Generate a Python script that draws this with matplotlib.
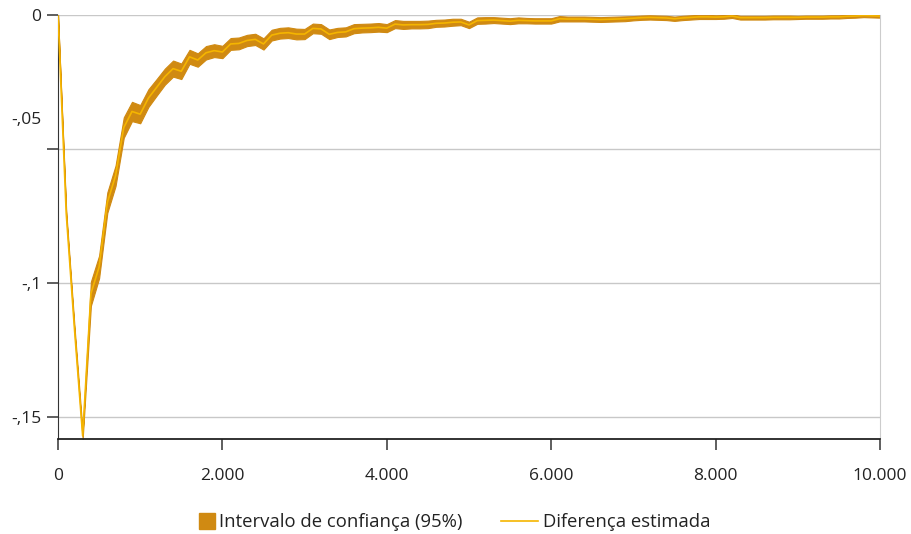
import numpy as np
import matplotlib
matplotlib.use("Agg")
import matplotlib.pyplot as plt
import matplotlib.patches as mpatches
from matplotlib.lines import Line2D
from matplotlib.legend_handler import HandlerPatch
from matplotlib.transforms import ScaledTranslation

plt.rcParams["font.family"] = ["Open Sans", "DejaVu Sans"]

# sample size (x) and estimated difference
x = list(range(0, 10001, 100))
estimate = [
    0.0, -0.074, -0.117, -0.157, -0.104, -0.094, -0.070, -0.060, -0.042, -0.036,
    -0.037, -0.031, -0.027, -0.023, -0.020, -0.021, -0.0156, -0.0168, -0.0141, -0.0133,
    -0.0138, -0.0108, -0.0106, -0.0095, -0.0091, -0.0108, -0.0075, -0.0068, -0.0066, -0.0071,
    -0.0071, -0.0050, -0.0052, -0.0072, -0.0065, -0.0063, -0.0051, -0.0049, -0.0048, -0.0046,
    -0.0049, -0.0034, -0.0037, -0.0036, -0.0036, -0.0035, -0.0031, -0.0030, -0.0027, -0.0026,
    -0.0037, -0.0021, -0.0020, -0.0019, -0.0021, -0.0023, -0.0020, -0.0021, -0.0022, -0.0022,
    -0.0022, -0.0014, -0.0015, -0.0015, -0.0015, -0.0016, -0.0017, -0.0016, -0.0015, -0.0014,
    -0.0012, -0.0010, -0.0009, -0.0010, -0.0011, -0.0014, -0.0011, -0.0009, -0.0007, -0.0007,
    -0.0008, -0.0007, -0.0004, -0.0010, -0.0010, -0.0010, -0.0010, -0.0009, -0.0009, -0.0009,
    -0.0009, -0.0008, -0.0008, -0.0008, -0.0007, -0.0007, -0.0005, -0.0004, -0.0002, -0.0003,
    -0.0004,
]
# half width of the 95% interval
half_ci = [
    0.0, 0.0008, 0.001, 0.0012, 0.0045, 0.0042, 0.0038, 0.0038, 0.0038, 0.0036,
    0.0034, 0.0033, 0.0031, 0.003, 0.003, 0.0029, 0.0026, 0.0025, 0.0025, 0.0024,
    0.0023, 0.0022, 0.0022, 0.0021, 0.0021, 0.0021, 0.002, 0.002, 0.002, 0.002,
    0.0019, 0.0018, 0.0018, 0.0018, 0.0017, 0.0017, 0.0017, 0.0016, 0.0016, 0.0016,
    0.0015, 0.0015, 0.0015, 0.0014, 0.0014, 0.0014, 0.0013, 0.0013, 0.0013, 0.0012,
    0.0012, 0.0012, 0.0012, 0.0011, 0.0011, 0.0011, 0.0011, 0.001, 0.001, 0.001,
    0.001, 0.001, 0.0009, 0.0009, 0.0009, 0.0009, 0.0009, 0.0009, 0.0009, 0.0009,
    0.0008, 0.0008, 0.0008, 0.0008, 0.0008, 0.0008, 0.0008, 0.0008, 0.0008, 0.0008,
    0.0007, 0.0007, 0.0007, 0.0007, 0.0007, 0.0007, 0.0007, 0.0007, 0.0007, 0.0007,
    0.0006, 0.0006, 0.0006, 0.0006, 0.0006, 0.0006, 0.0006, 0.0006, 0.0006, 0.0006,
    0.0006,
]
yticks = [0, -0.05, -0.1, -0.15]
ytick_labels = ["0", "-,05", "-,1", "-,15"]
xticks = [0, 2000, 4000, 6000, 8000, 10000]
xtick_labels = ["0", "2.000", "4.000", "6.000", "8.000", "10.000"]

BAND = "#D08A12"
LINE = "#F5B500"
TXT = "#222222"

est = np.array(estimate)
hw = np.array(half_ci)

fig = plt.figure(figsize=(9.11, 5.34), dpi=100)
ax = fig.add_axes([58/911, 1 - 439/534, 822/911, 424/534])

ax.fill_between(x, est - hw, est + hw, color=BAND, lw=0.8, ec=BAND, zorder=2)
ax.plot(x, est, color=LINE, lw=1.2, zorder=3)

ax.set_xlim(0, 10000)
ax.set_ylim(-0.1582, 0)
ax.set_yticks(yticks)
ax.set_yticklabels(ytick_labels)
ax.set_xticks(xticks)
ax.set_xticklabels(xtick_labels)
ax.grid(axis="y", color="#c8c8c8", lw=1)
ax.set_axisbelow(True)

ax.spines["top"].set_visible(False)
ax.spines["right"].set_color("#cccccc")
ax.spines["left"].set_color("#333333")
ax.spines["bottom"].set_color("#222222")
ax.spines["bottom"].set_linewidth(1.3)
ax.tick_params(axis="y", length=8, width=1.1, color="#333333", pad=4,
               labelsize=12.5, labelcolor=TXT)
ax.tick_params(axis="x", length=8, width=1.1, color="#333333", pad=13,
               labelsize=12.5, labelcolor=TXT)

# the -,05 label sits above its tick in the original
lab = ax.get_yticklabels()[1]
lab.set_transform(lab.get_transform() + ScaledTranslation(0, 0.31, fig.dpi_scale_trans))


def square_patch(legend, orig_handle, xdescent, ydescent, width, height, fontsize):
    s = height * 1.2
    return mpatches.Rectangle((width - s, -ydescent - 0.1 * s), s, s)


band_handle = mpatches.Patch(color=BAND, label="Intervalo de confiança (95%)")
line_handle = Line2D([], [], color=LINE, lw=1.2, label="Diferença estimada")
fig.legend(handles=[band_handle, line_handle], loc="center",
           bbox_to_anchor=(444/911, 1 - 522/534), ncol=2, frameon=False,
           fontsize=13.3, handlelength=2.0, handletextpad=0.25, columnspacing=2.1,
           labelcolor=TXT,
           handler_map={mpatches.Patch: HandlerPatch(patch_func=square_patch)})

fig.savefig("out.png", dpi=100)
